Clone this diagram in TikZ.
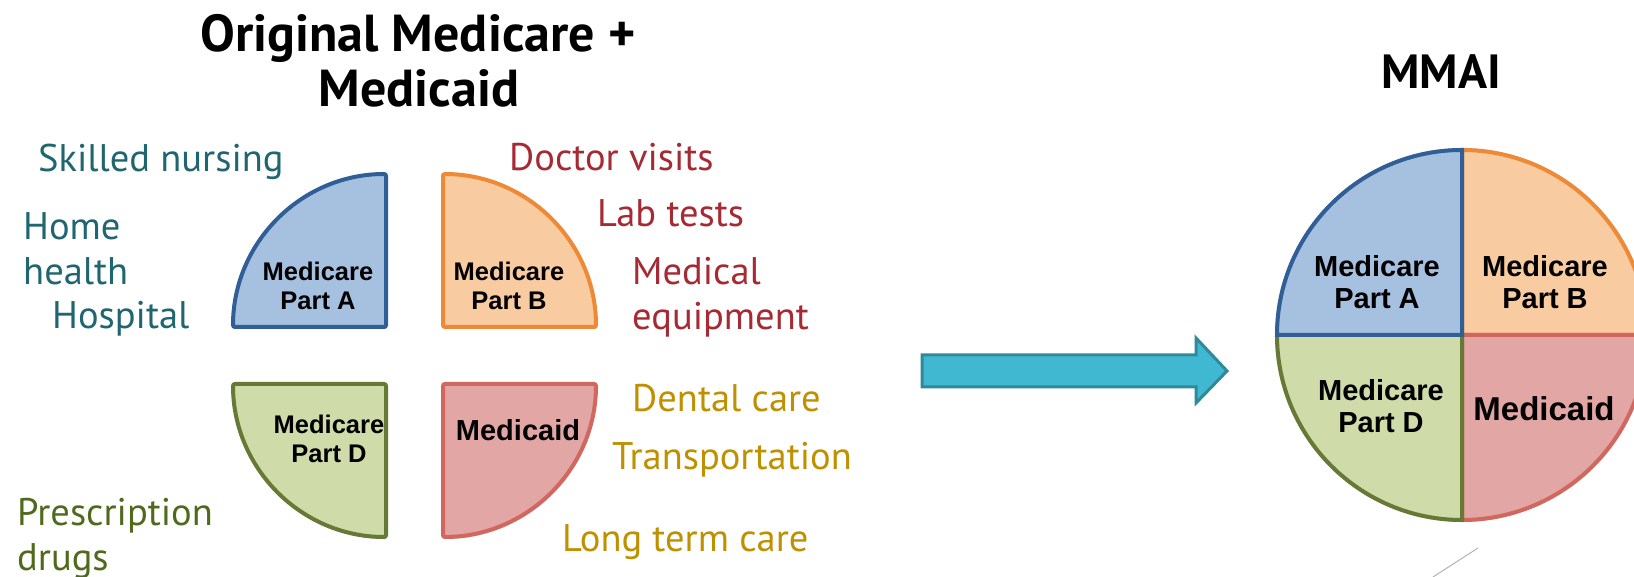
\documentclass[tikz,border=0pt]{standalone}
\usepackage{fontspec}
\setmainfont{PT Sans}
\newfontfamily\headfont{PT Sans}
\newfontfamily\piefont{Liberation Sans}
\usetikzlibrary{shadows}

\definecolor{aFill}{HTML}{A6C0DF}
\definecolor{aLine}{HTML}{2F5F96}
\definecolor{bFill}{HTML}{F8CBA0}
\definecolor{bLine}{HTML}{EE8A36}
\definecolor{dFill}{HTML}{CFDBA9}
\definecolor{dLine}{HTML}{667A35}
\definecolor{mFill}{HTML}{E2A6A4}
\definecolor{mLine}{HTML}{D2675F}
\definecolor{arrFill}{HTML}{41B8D1}
\definecolor{arrLine}{HTML}{2E8A99}
\definecolor{tealTxt}{HTML}{1F6670}
\definecolor{redTxt}{HTML}{A52A33}
\definecolor{oliveTxt}{HTML}{4F6A1C}
\definecolor{goldTxt}{HTML}{BF9000}

\begin{document}
\begin{tikzpicture}[x=1pt,y=1pt,
head/.style={font=\headfont\bfseries\fontsize{52}{60}\selectfont,inner sep=0,anchor=base},
lab/.style={font=\fontsize{38.5}{45}\selectfont,inner sep=0,anchor=base west,align=left},
piece/.style={line width=4pt,rounded corners=2pt,
  drop shadow={shadow xshift=1pt,shadow yshift=-2pt,opacity=.2,fill=black}},
slice/.style={line width=4pt},
inlab/.style={font=\piefont\bfseries\fontsize{25.5}{29}\selectfont,inner sep=0,align=center,anchor=base},
bigin/.style={font=\piefont\bfseries\fontsize{29}{32}\selectfont,inner sep=0,align=center,anchor=base},
partA/.style={fill=aFill,draw=aLine},
partB/.style={fill=bFill,draw=bLine},
partD/.style={fill=dFill,draw=dLine},
partM/.style={fill=mFill,draw=mLine}]
\useasboundingbox (0,0) rectangle (1634,577);

% titles
\node[head] (orig) at (418,525) {Original Medicare +};
\node[head] (orig2) at (419,470) {Medicaid};
\node[head,font=\headfont\bfseries\fontsize{48}{56}\selectfont] (mmai) at (1441,488) {MMAI};

% four separate pieces
\coordinate (qA) at (386,250);
\coordinate (qB) at (443,250);
\coordinate (qD) at (386,193);
\coordinate (qM) at (443,193);
\filldraw[piece,partA] (qA) -- ++(0,153) arc[start angle=90,end angle=180,radius=153] -- cycle;
\filldraw[piece,partB] (qB) -- ++(0,153) arc[start angle=90,end angle=0,radius=153] -- cycle;
\filldraw[piece,partD] (qD) -- ++(0,-153) arc[start angle=270,end angle=180,radius=153] -- cycle;
\filldraw[piece,partM] (qM) -- ++(0,-153) arc[start angle=270,end angle=360,radius=153] -- cycle;

\node[inlab] (inA) at (318,267) {Medicare\\Part A};
\node[inlab] (inB) at (509,267) {Medicare\\Part B};
\node[inlab] (inD) at (329,114) {Medicare\\Part D};
\node[bigin] (inM) at (518,136) {Medicaid};

% services
\node[lab,text=tealTxt] (skilled) at (38,405) {Skilled nursing};
\node[lab,text=tealTxt] (home) at (23,292) {Home\\health};
\node[lab,text=tealTxt] (hosp) at (52,248) {Hospital};
\node[lab,text=redTxt] (doctor) at (509,406) {Doctor visits};
\node[lab,text=redTxt] (labt) at (597,350) {Lab tests};
\node[lab,text=redTxt] (medeq) at (632,247) {Medical\\equipment};
\node[lab,text=goldTxt] (dental) at (632,165) {Dental care};
\node[lab,text=goldTxt] (transp) at (612,107) {Transportation};
\node[lab,text=goldTxt] (ltc) at (562,25) {Long term care};
\node[lab,text=oliveTxt] (rx) at (17,6) {Prescription\\drugs};

% arrow
\filldraw[fill=arrFill,draw=arrLine,line width=3pt]
  (922,222) -- (1196,222) -- (1196,239) -- (1227,206) -- (1196,174) -- (1196,190) -- (922,190) -- cycle;

% whole pie
\coordinate (pie) at (1462,242);
\fill[black,opacity=.2,xshift=1pt,yshift=-2pt] (pie) circle (187);
\filldraw[slice,partB] (pie) -- ++(0,185) arc[start angle=90,end angle=0,radius=185] -- cycle;
\filldraw[slice,partM] (pie) -- ++(185,0) arc[start angle=0,end angle=-90,radius=185] -- cycle;
\filldraw[slice,partD] (pie) -- ++(0,-185) arc[start angle=270,end angle=180,radius=185] -- cycle;
\filldraw[slice,partA] (pie) -- ++(-185,0) arc[start angle=180,end angle=90,radius=185] -- cycle;

\node[bigin] (pA) at (1377,268) {Medicare\\Part A};
\node[bigin] (pB) at (1545,268) {Medicare\\Part B};
\node[bigin] (pD) at (1381,144) {Medicare\\Part D};
\node[bigin,font=\piefont\bfseries\fontsize{33}{36}\selectfont] (pM) at (1544,156) {Medicaid};

\coordinate (tickTop) at (1478,29);
\coordinate (tickEnd) at (1433,0);
\draw[black!30,line width=1pt] (tickTop) -- (tickEnd);
\end{tikzpicture}
\end{document}
